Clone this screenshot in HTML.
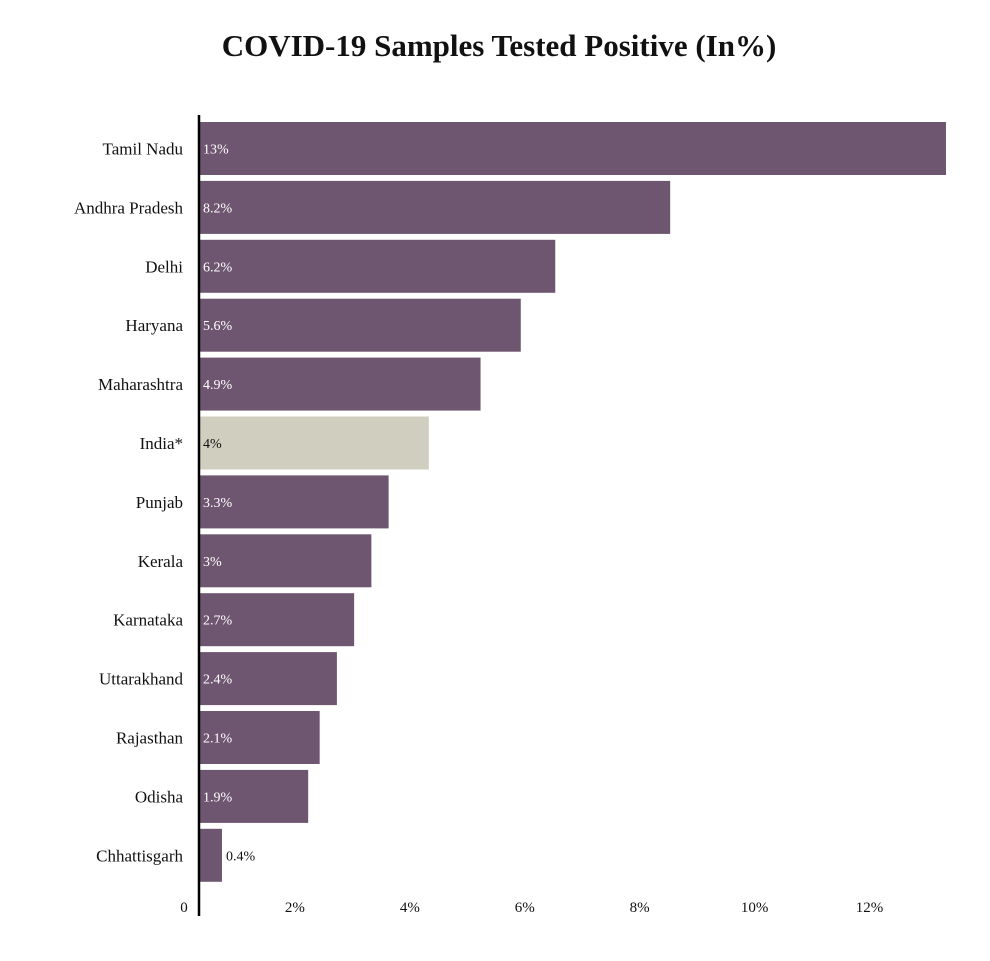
<!DOCTYPE html>
<html><head><meta charset="utf-8"><style>
body{margin:0;background:#fff;width:990px;height:956px;overflow:hidden;font-family:"Liberation Serif",serif}
</style></head><body>
<svg id="chart" width="990" height="956">
<text x="499" y="56" text-anchor="middle" font-size="31" font-weight="bold" fill="#111">COVID-19 Samples Tested Positive (In%)</text>
</svg>
<script>
const categories=["Tamil Nadu","Andhra Pradesh","Delhi","Haryana","Maharashtra","India*","Punjab","Kerala","Karnataka","Uttarakhand","Rajasthan","Odisha","Chhattisgarh"];
const values=[13,8.2,6.2,5.6,4.9,4,3.3,3,2.7,2.4,2.1,1.9,0.4];
const valueLabels=["13%","8.2%","6.2%","5.6%","4.9%","4%","3.3%","3%","2.7%","2.4%","2.1%","1.9%","0.4%"];
const ticks=[0,2,4,6,8,10,12];
const tickLabels=["0","2%","4%","6%","8%","10%","12%"];
const svg=document.getElementById('chart');
const NS='http://www.w3.org/2000/svg';
const x0=199,pxPer=57.46,top0=122,pitch=58.9,bh=53;
const x=v=>x0+v*pxPer;
const y=i=>top0+i*pitch;
function mk(t,a){const e=document.createElementNS(NS,t);for(const k in a)e.setAttribute(k,a[k]);svg.appendChild(e);return e;}
categories.forEach((c,i)=>{
  const r=mk('rect',{x:x0,y:y(i),width:x(values[i])-x0,height:bh,fill:c==="India*"?"#d0cebe":"#6e5670"});
  
  
  const l=mk('text',{x:183,y:y(i)+bh/2+6,'text-anchor':'end','font-size':17,fill:'#111'});
  l.textContent=c;
  
  
  const w=x(values[i])-x0;
  const inside=w>30;
  const vl=mk('text',{x:inside?x0+4:x(values[i])+4,y:y(i)+bh/2+5,'font-size':14,fill:(inside&&c!=="India*")?'#fff':'#111'});
  vl.textContent=valueLabels[i];
  
  
});
ticks.forEach((t,i)=>{
  const tx=i===0?184:x(t)-19;
  const e=mk('text',{x:tx,y:912,'text-anchor':'middle','font-size':15,fill:'#111'});
  e.textContent=tickLabels[i];
  
  
});
const ax=mk('line',{x1:x0,y1:115,x2:x0,y2:916,stroke:'#000','stroke-width':2.5});


</script>
</body></html>
